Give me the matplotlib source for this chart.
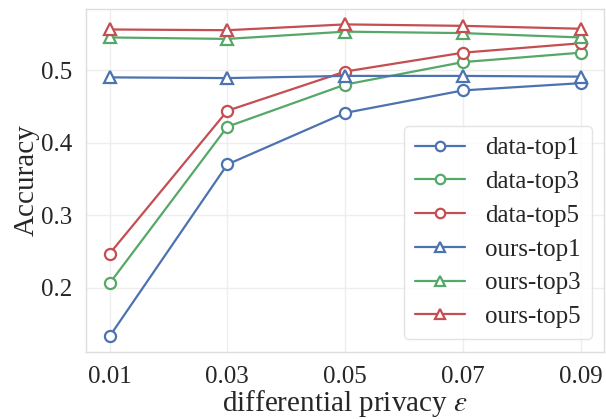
import matplotlib
matplotlib.use("Agg")
import matplotlib.pyplot as plt
import seaborn as sns

sns.set_theme(style="whitegrid")
plt.rcParams['font.family'] = ['Liberation Serif', 'DejaVu Serif']
plt.rcParams['mathtext.fontset'] = 'stix'

# datos
eps = [0.01, 0.03, 0.05, 0.07, 0.09]
eps_labels = ["0.01", "0.03", "0.05", "0.07", "0.09"]

data_top1 = [0.133, 0.370, 0.441, 0.472, 0.482]
data_top3 = [0.206, 0.422, 0.480, 0.511, 0.524]
data_top5 = [0.247, 0.444, 0.498, 0.524, 0.537]
ours_top1 = [0.490, 0.489, 0.492, 0.492, 0.491]
ours_top3 = [0.545, 0.543, 0.553, 0.551, 0.545]
ours_top5 = [0.556, 0.555, 0.563, 0.561, 0.557]

azul = "#4C72B0"
verde = "#55A868"
rojo = "#C44E52"

fig, ax = plt.subplots(figsize=(6.06, 4.19), dpi=100)
fig.subplots_adjust(left=0.142, right=0.997, top=0.979, bottom=0.160)

series = [
    (data_top1, "data-top1", azul, "o"),
    (data_top3, "data-top3", verde, "o"),
    (data_top5, "data-top5", rojo, "o"),
    (ours_top1, "ours-top1", azul, "^"),
    (ours_top3, "ours-top3", verde, "^"),
    (ours_top5, "ours-top5", rojo, "^"),
]
for vals, nombre, col, mk in series:
    ax.plot(eps, vals, color=col, marker=mk, markersize=8, markerfacecolor="white",
            markeredgewidth=1.6, linewidth=1.6, label=nombre)

ax.set_xticks(eps)
ax.set_xticklabels(eps_labels)
ax.set_yticks([0.2, 0.3, 0.4, 0.5])
ax.set_yticklabels(["0.2", "0.3", "0.4", "0.5"])
ax.tick_params(labelsize=18, pad=4)
ax.set_xlabel(r"differential privacy $\varepsilon$", fontsize=21, labelpad=0)
ax.set_ylabel("Accuracy", fontsize=21, labelpad=1)

ax.grid(True, color="#EEEEEE", linewidth=1)
for s in ax.spines.values():
    s.set_color("#DDDDDD")
    s.set_linewidth(1)

leg = ax.legend(loc="lower right", fontsize=18, frameon=True, fancybox=True,
                handlelength=2.0, labelspacing=0.45, borderpad=0.45,
                borderaxespad=0.5, markerscale=0.85)
leg.get_frame().set_edgecolor("#DDDDDD")

fig.savefig("out.png", dpi=100)
